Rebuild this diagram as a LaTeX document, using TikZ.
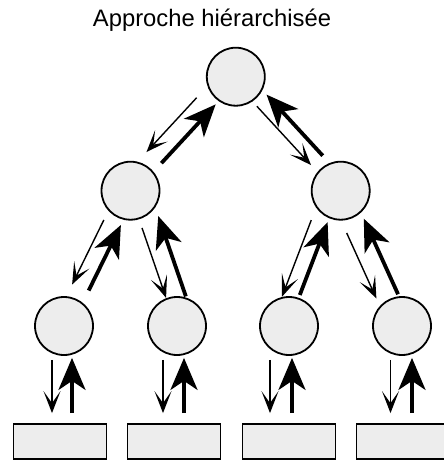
\documentclass[tikz,border=0pt]{standalone}
\usepackage{fontspec}
\setmainfont{Liberation Sans}
\usetikzlibrary{arrows.meta,calc}

\begin{document}
\begin{tikzpicture}[x=1pt, y=-1pt,
    levelnode/.style={circle, draw=black, line width=1.8pt, fill=nodegray, minimum size=58pt, inner sep=0pt},
    boxnode/.style={rectangle, draw=black, line width=1.8pt, fill=nodegray, minimum width=93pt, minimum height=35pt, inner sep=0pt},
    thinarr/.style={line width=1.4pt, -{Stealth[length=22pt, width=17pt, inset=12pt]}},
    thickarr/.style={line width=3.8pt, -{Stealth[length=32pt, width=27pt, inset=9pt]}}]
                \definecolor{nodegray}{RGB}{237,237,237}
                \useasboundingbox (0,0) rectangle (444,461);

                % Title
                \node[font=\fontsize{23.8pt}{28pt}\selectfont, anchor=base] (title) at (212,26.7) {Approche hiérarchisée};

                % Tree of circles, top to bottom
                \node[levelnode] (root) at (235.8,76.7) {};
                \node[levelnode] (mid1) at (130.5,190.7) {};
                \node[levelnode] (mid2) at (340.7,190.7) {};
                \node[levelnode] (low1) at (64,326) {};
                \node[levelnode] (low2) at (177,326) {};
                \node[levelnode] (low3) at (289,326) {};
                \node[levelnode] (low4) at (402,326) {};

                % Boxes along the bottom edge
                \node[boxnode] (box1) at (60,441.5) {};
                \node[boxnode] (box2) at (174,441.5) {};
                \node[boxnode] (box3) at (289,441.5) {};
                \node[boxnode] (box4) at (403,441.5) {};

                % Thin arrows go down, thick arrows come back up
                \draw[thinarr] ($(root)!42pt!(mid1)!14.5pt!-90:(mid1)$) -- ($(root)!116pt!(mid1)!14.5pt!-90:(mid1)$);
                \draw[thickarr] ($(root)!114pt!(mid1)!4pt!90:(mid1)$) -- ($(root)!34pt!(mid1)!4pt!90:(mid1)$);
                \draw[thinarr] ($(root)!36pt!(mid2)!4.5pt!-90:(mid2)$) -- ($(root)!116pt!(mid2)!4.5pt!-90:(mid2)$);
                \draw[thickarr] ($(root)!117pt!(mid2)!10.5pt!90:(mid2)$) -- ($(root)!34pt!(mid2)!10.5pt!90:(mid2)$);

                \draw[thinarr] ($(mid1)!38pt!(low1)!11pt!-90:(low1)$) -- ($(mid1)!110pt!(low1)!11pt!-90:(low1)$);
                \draw[thickarr] ($(mid1)!108pt!(low1)!6.5pt!90:(low1)$) -- ($(mid1)!35pt!(low1)!6.5pt!90:(low1)$);
                \draw[thinarr] ($(mid1)!39pt!(low2)!1.2pt!-90:(low2)$) -- ($(mid1)!113pt!(low2)!1.2pt!-90:(low2)$);
                \draw[thickarr] ($(mid1)!118pt!(low2)!18pt!90:(low2)$) -- ($(mid1)!33pt!(low2)!18pt!90:(low2)$);

                \draw[thinarr] ($(mid2)!38pt!(low3)!17pt!-90:(low3)$) -- ($(mid2)!120pt!(low3)!17pt!-90:(low3)$);
                \draw[thickarr] ($(mid2)!112pt!(low3)!1pt!-90:(low3)$) -- ($(mid2)!34pt!(low3)!1pt!-90:(low3)$);
                \draw[thinarr] ($(mid2)!41pt!(low4)!12pt!-90:(low4)$) -- ($(mid2)!113pt!(low4)!12pt!-90:(low4)$);
                \draw[thickarr] ($(mid2)!118pt!(low4)!9.5pt!90:(low4)$) -- ($(mid2)!35pt!(low4)!9.5pt!90:(low4)$);

                % Circles to boxes
                \draw[thinarr] ([shift={(-12,4)}]low1.south) -- ([shift={(-8,-10)}]box1.north);
                \draw[thickarr] ([shift={(12,-10)}]box1.north) -- ([shift={(8,2)}]low1.south);
                \draw[thinarr] ([shift={(-14,4)}]low2.south) -- ([shift={(-11,-10)}]box2.north);
                \draw[thickarr] ([shift={(10,-10)}]box2.north) -- ([shift={(7,2)}]low2.south);
                \draw[thinarr] ([shift={(-19,4)}]low3.south) -- ([shift={(-19,-10)}]box3.north);
                \draw[thickarr] ([shift={(3,-10)}]box3.north) -- ([shift={(3,2)}]low3.south);
                \draw[thinarr] ([shift={(-11.5,4)}]low4.south) -- ([shift={(-12.5,-10)}]box4.north);
                \draw[thickarr] ([shift={(9,-10)}]box4.north) -- ([shift={(10,2)}]low4.south);
            \end{tikzpicture}
\end{document}
